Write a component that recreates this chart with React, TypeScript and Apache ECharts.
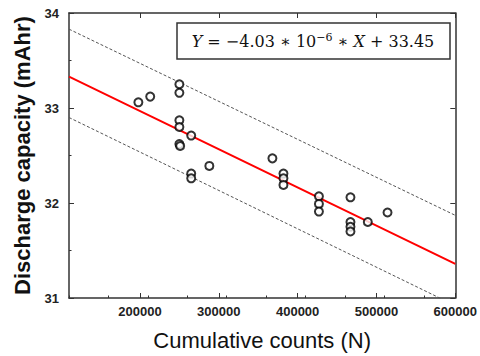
import React, { useEffect, useRef } from "react";
import * as echarts from "echarts";

const points: [number, number][] = [
  [198000, 33.06], [213000, 33.12], [250000, 33.25], [250000, 33.16],
  [250000, 32.87], [250000, 32.8], [250000, 32.62], [251000, 32.6],
  [265000, 32.71], [265000, 32.31], [265000, 32.26], [288000, 32.39],
  [368000, 32.47], [382000, 32.31], [382000, 32.26], [382000, 32.19],
  [427000, 32.07], [427000, 31.99], [427000, 31.91], [467000, 32.06],
  [467000, 31.8], [467000, 31.75], [467000, 31.7], [489000, 31.8],
  [514000, 31.9],
];
const fitLine: [number, number][] = [[110000, 33.33], [600000, 31.36]];
const upperBand: [number, number][] = [[110000, 33.83], [600000, 31.87]];
const lowerBand: [number, number][] = [[110000, 32.9], [600000, 30.92]];
const xTicks = [200000, 300000, 400000, 500000, 600000];
const yTicks = [31, 32, 33, 34];

export default function App() {
  const ref = useRef<HTMLDivElement>(null);
  useEffect(() => {
    const chart = echarts.init(ref.current!, null, { renderer: "svg" });
    const axisLine = { lineStyle: { color: "#333", width: 1.5 } };
    const tick = { inside: true, length: 5, lineStyle: { color: "#333", width: 1 } };
    const xBase = {
      type: "value" as const, min: 110000, max: 600000, interval: 50000,
      axisLine: { ...axisLine, onZero: false }, splitLine: { show: false },
    };
    const yBase = {
      type: "value" as const, min: 31, max: 34, interval: 0.5,
      axisLine: { ...axisLine, onZero: false }, splitLine: { show: false },
    };
    chart.setOption({
      animation: false,
      grid: { left: 69, top: 13, right: 22, bottom: 58 },
      xAxis: [
        {
          ...xBase, position: "bottom",
          axisTick: { ...tick, customValues: xTicks },
          axisLabel: {
            customValues: xTicks, color: "#222", fontWeight: "bold", fontSize: 13,
            fontFamily: "Arial", margin: 7,
            formatter: (v: number) => String(v),
          },
          name: "Cumulative counts (N)", nameLocation: "middle", nameGap: 31,
          nameTextStyle: { fontSize: 22, color: "#111", fontFamily: "Arial", fontWeight: "normal" },
        },
        {
          ...xBase, position: "top",
          axisTick: { ...tick, customValues: xTicks },
          axisLabel: { show: false },
        },
        {
          ...xBase, position: "bottom",
          axisTick: { inside: true, length: 2.5, lineStyle: { color: "#333" } },
          axisLabel: { show: false }, axisLine: { show: false },
        },
      ],
      yAxis: [
        {
          ...yBase, position: "left",
          axisTick: { ...tick, customValues: yTicks },
          axisLabel: {
            customValues: yTicks, color: "#222", fontWeight: "bold", fontSize: 13,
            fontFamily: "Arial", margin: 10,
          },
          name: "Discharge capacity (mAhr)", nameLocation: "middle", nameGap: 35,
          nameTextStyle: { fontSize: 22, color: "#111", fontFamily: "Arial", fontWeight: "bold" },
        },
        {
          ...yBase, position: "right",
          axisTick: { ...tick, customValues: yTicks },
          axisLabel: { show: false },
        },
        {
          ...yBase, position: "left",
          axisTick: { inside: true, length: 2.5, lineStyle: { color: "#333" } },
          axisLabel: { show: false }, axisLine: { show: false },
        },
      ],
      graphic: [
        {
          type: "rect", shape: { x: 177, y: 23, width: 273, height: 36 },
          style: { fill: "#fff", stroke: "#333", lineWidth: 1.5 }, z: 10,
        },
        {
          type: "text", x: 313, y: 41, z: 11,
          style: {
            text: "{i|Y} = −4.03 ∗ 10{s|−6} ∗ {i|X} + 33.45",
            align: "center", verticalAlign: "middle",
            fontFamily: "DejaVu Serif", fontSize: 16, fill: "#111",
            rich: {
              i: { fontStyle: "italic", fontFamily: "DejaVu Serif", fontSize: 16, fill: "#111" },
              s: { fontSize: 11, fontFamily: "DejaVu Serif", verticalAlign: "top", padding: [0, 0, 8, 0], fill: "#111" },
            },
          },
        },
      ],
      series: [
        {
          type: "line", data: upperBand, symbol: "none", silent: true,
          lineStyle: { color: "#555", width: 1, type: [3, 2] },
        },
        {
          type: "line", data: lowerBand, symbol: "none", silent: true, clip: true,
          lineStyle: { color: "#555", width: 1, type: [3, 2] },
        },
        {
          type: "line", data: fitLine, symbol: "none", silent: true,
          lineStyle: { color: "#ff0000", width: 2 },
        },
        {
          type: "scatter", data: points, symbol: "emptyCircle", symbolSize: 8,
          itemStyle: { color: "#000", borderColor: "#000", borderWidth: 2 }, z: 5,
        },
      ],
    });
    return () => chart.dispose();
  }, []);
  return <div ref={ref} style={{ width: 480, height: 356, position: "absolute", left: 0, top: 0 }} />;
}
